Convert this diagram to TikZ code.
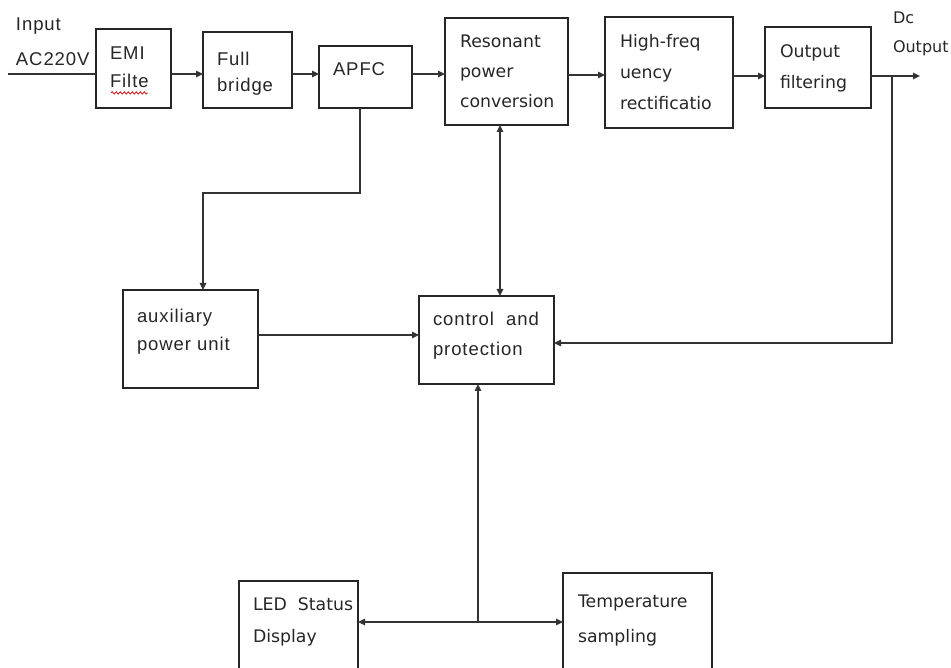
\documentclass[tikz,border=0pt]{standalone}
\usepackage{fontspec}
\setmainfont{Liberation Sans}
\newfontfamily\arialish[LetterSpace=5]{Liberation Sans}
\newfontfamily\tahomaish{DejaVu Sans}
\usetikzlibrary{arrows.meta,decorations.pathmorphing}
\begin{document}
\begin{tikzpicture}[x=1pt,y=-1pt,
  box/.style={draw=black!85, line width=1.3pt, inner sep=0pt, outer sep=0pt, anchor=north west},
  albl/.style={anchor=north west, inner sep=0pt, outer sep=0pt, align=left, text=black!85, font=\arialish\fontsize{18.5}{28}\selectfont},
  tlbl/.style={anchor=north west, inner sep=0pt, outer sep=0pt, align=left, text=black!85, font=\tahomaish\fontsize{17.3}{30}\selectfont},
  ln/.style={draw=black!80, line width=1.5pt},
  arr/.style={ln, -{Triangle[length=7pt,width=6.5pt]}},
  arrb/.style={ln, {Triangle[length=7pt,width=6.5pt]}-{Triangle[length=7pt,width=6.5pt]}},
  squig/.style={draw=red!80!black, line width=0.7pt, decorate, decoration={snake, amplitude=1.2pt, segment length=4pt}}
]
\useasboundingbox (0,0) rectangle (951,668);
\clip (0,0) rectangle (951,668);

% boxes
\node[box, minimum width=75pt,  minimum height=79pt]  (emi)  at (96,29)  {};
\node[box, minimum width=89pt,  minimum height=76pt]  (fb)   at (203,32) {};
\node[box, minimum width=93pt,  minimum height=62pt]  (apfc) at (319,46) {};
\node[box, minimum width=123pt, minimum height=107pt] (res)  at (445,18) {};
\node[box, minimum width=128pt, minimum height=111pt] (hf)   at (605,17) {};
\node[box, minimum width=106pt, minimum height=81pt]  (of)   at (765,27) {};
\node[box, minimum width=135pt, minimum height=98pt]  (aux)  at (123,290) {};
\node[box, minimum width=135pt, minimum height=88pt]  (ctrl) at (419,296) {};
\node[box, minimum width=119pt, minimum height=100pt] (led)  at (239,581) {};
\node[box, minimum width=149pt, minimum height=100pt] (temp) at (563,573) {};

% labels
\node[albl, font=\arialish\fontsize{18.5}{35}\selectfont] (intxt) at (16,18) {Input\\AC220V};
\node[tlbl, font=\tahomaish\fontsize{16}{29}\selectfont] (dctxt) at (893,11.5) {Dc\\Output};
\node[albl] (emit) at ([shift={(14,18)}]emi.north west) {EMI\\Filte};
\node[albl, font=\arialish\fontsize{18.5}{26}\selectfont] (fbt) at ([shift={(14,20)}]fb.north west) {Full\\bridge};
\node[albl] (apfct) at ([shift={(14,17)}]apfc.north west) {APFC};
\node[tlbl] (rest) at ([shift={(15,16.5)}]res.north west) {Resonant\\power\\conversion};
\node[tlbl, font=\tahomaish\fontsize{17.3}{31}\selectfont] (hft) at ([shift={(15,17.5)}]hf.north west) {High-freq\\uency\\rectificatio};
\node[tlbl, font=\tahomaish\fontsize{17.3}{31}\selectfont] (oft) at ([shift={(15,17.5)}]of.north west) {Output\\filtering};
\node[albl] (auxt) at ([shift={(14,19)}]aux.north west) {auxiliary\\power unit};
\node[albl, font=\arialish\fontsize{18.5}{30}\selectfont] (ctrlt) at ([shift={(14,16)}]ctrl.north west) {control\ \ and\\protection};
\node[tlbl, font=\tahomaish\fontsize{17.3}{32}\selectfont] (ledt) at ([shift={(14,16.5)}]led.north west) {LED\ \ Status\\Display};
\node[tlbl, font=\tahomaish\fontsize{17.3}{35}\selectfont] (tempt) at ([shift={(15,21.5)}]temp.north west) {Temperature\\sampling};

% spell-check squiggle under "Filte"
\draw[squig] ([shift={(1,5)}]emit.south west) -- ([shift={(-1,5)}]emit.south east);

% coordinates
\coordinate (inp) at (8,74);
\coordinate (dc) at (920,76);
\coordinate (tap) at (892,76);
\coordinate (k1) at (360,193);
\coordinate (k2) at (203,193);
\coordinate (jn) at (478,622);

% main power path
\draw[ln] (inp) -- (emi.west |- inp);
\draw[arr] (emi.east |- inp) -- (fb.west |- inp);
\draw[arr] (fb.east |- inp) -- (apfc.west |- inp);
\draw[arr] (apfc.east |- inp) -- (res.west |- inp);
\draw[arr] ([yshift=-1pt]res.east |- inp) coordinate (r2) -- (hf.west |- r2);
\draw[arr] (hf.east |- dc) -- (of.west |- dc);
\draw[arr] (of.east |- dc) -- (dc);

% auxiliary supply
\draw[arr] (apfc.south -| k1) -- (k1) -- (k2) -- (aux.north -| k2);
\draw[arr] ([yshift=4pt]aux.east) coordinate (a1) -- (ctrl.west |- a1);

% control links
\draw[arrb] ([xshift=-6.5pt]res.south) coordinate (r1) -- (ctrl.north -| r1);
\draw[arr] (tap) |- ([yshift=-3pt]ctrl.east);
\draw[arr] (jn) -- (ctrl.south -| jn);
\draw[arrb] (led.east |- jn) -- (temp.west |- jn);
\end{tikzpicture}
\end{document}
